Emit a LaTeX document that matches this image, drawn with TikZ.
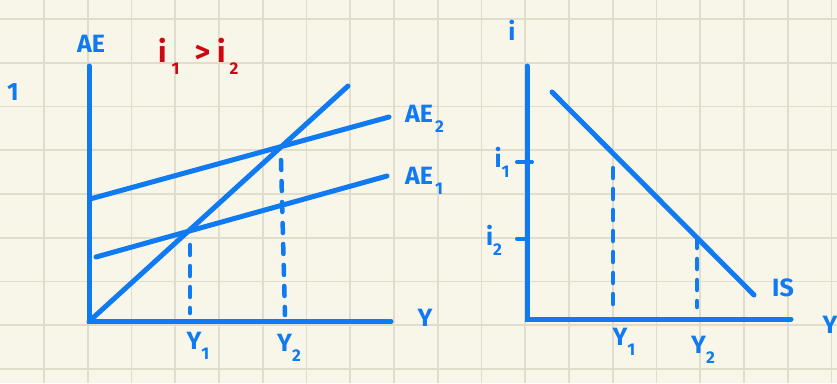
\documentclass[tikz,border=0pt]{standalone}
\usepackage{fontspec}
\setmainfont{Fira Sans}
\definecolor{paper}{RGB}{248,245,233}
\definecolor{gridc}{RGB}{224,221,205}
\definecolor{blu}{RGB}{16,122,242}
\definecolor{redc}{RGB}{206,8,16}
\newcommand\lowsub[1]{\raisebox{-0.4em}{\fontsize{17}{17}\selectfont #1}}
\tikzset{
  gridline/.style={draw=gridc, line width=1.8pt},
  axisline/.style={draw=blu, line width=5pt, line cap=round},
  plotline/.style={draw=blu, line width=5pt, line cap=round},
  guide/.style={draw=blu, line width=4.5pt, line cap=round, dash pattern=on 10pt off 11pt},
  tickline/.style={draw=blu, line width=4pt, line cap=round},
  lbl/.style={text=blu, inner sep=0pt, font=\fontsize{25}{25}\selectfont\bfseries},
  redlbl/.style={text=redc, inner sep=0pt, font=\fontsize{30}{30}\selectfont\bfseries},
}
\begin{document}
\begin{tikzpicture}[x=1pt,y=-1pt]
\useasboundingbox (0,0) rectangle (837,383);
\fill[paper] (0,0) rectangle (837,383);
% grid
\foreach \k in {1,...,19} { \draw[gridline] ({0.3+43.75*\k},0) -- ({0.3+43.75*\k},383); }
\foreach \k in {0,...,8} { \draw[gridline] (0,{19+43.75*\k}) -- (837,{19+43.75*\k}); }

% ---------- left panel ----------
\coordinate (O1) at (89,321.5);
\coordinate (AEtop) at (89,66);
\coordinate (Yend) at (391,321.5);
\coordinate (D45) at (348,86);
\coordinate (AE2a) at (90,199);
\coordinate (AE2b) at (389,117);
\coordinate (AE1a) at (96,257);
\coordinate (AE1b) at (387,176);
\draw[axisline] (AEtop) -- (O1) -- (Yend);
\draw[plotline] (O1) -- (D45);
\draw[plotline] (AE2a) -- (AE2b);
\draw[plotline] (AE1a) -- (AE1b);
\coordinate (g1t) at (190,245);
\coordinate (g1b) at (190,313);
\coordinate (g2t) at (281,160);
\coordinate (g2b) at (285,315);
\draw[guide] (g1t) -- (g1b);
\draw[guide] (g2t) -- (g2b);

\node[lbl] (lAE) at (91,44) {AE};
\node[lbl] (lone) at (13,92) {1};
\node[redlbl, anchor=west] (lcmp) at (158,56) {i\hspace{5pt}\lowsub{1}\hspace{15pt}>\hspace{7pt}i\hspace{4pt}\lowsub{2}};
\node[lbl, anchor=west] (lAE2) at (405,119) {AE\hspace{2pt}\lowsub{2}};
\node[lbl, anchor=west] (lAE1) at (405,181) {AE\hspace{2pt}\lowsub{1}};
\node[lbl] (lY) at (425,318) {Y};
\node[lbl] (lY1) at (198,346) {Y\lowsub{1}};
\node[lbl] (lY2) at (289,348) {Y\lowsub{2}};

% ---------- right panel ----------
\coordinate (O2) at (527,319);
\coordinate (itop) at (527,66);
\coordinate (Yend2) at (791,319);
\coordinate (ISa) at (552,92);
\coordinate (ISb) at (754,295);
\draw[axisline] (itop) -- (O2) -- (Yend2);
\draw[plotline] (ISa) -- (ISb);
\coordinate (t1a) at (517,162);
\coordinate (t1b) at (532,162);
\coordinate (t2a) at (517,239);
\coordinate (t2b) at (527,239);
\draw[tickline] (t1a) -- (t1b);
\draw[tickline] (t2a) -- (t2b);
\coordinate (h1t) at (613,168);
\coordinate (h1b) at (613,305);
\coordinate (h2t) at (697,238);
\coordinate (h2b) at (697,307);
\draw[guide] (h1t) -- (h1b);
\draw[guide] (h2t) -- (h2b);

\node[lbl] (li) at (512,30) {i};
\node[lbl] (li1) at (502,162) {i\lowsub{1}};
\node[lbl] (li2) at (494,240) {i\lowsub{2}};
\node[lbl] (lIS) at (783,288) {IS};
\node[lbl] (lYr) at (830,325) {Y};
\node[lbl] (lY1r) at (624,342) {Y\lowsub{1}};
\node[lbl] (lY2r) at (703,350) {Y\lowsub{2}};
\end{tikzpicture}
\end{document}
